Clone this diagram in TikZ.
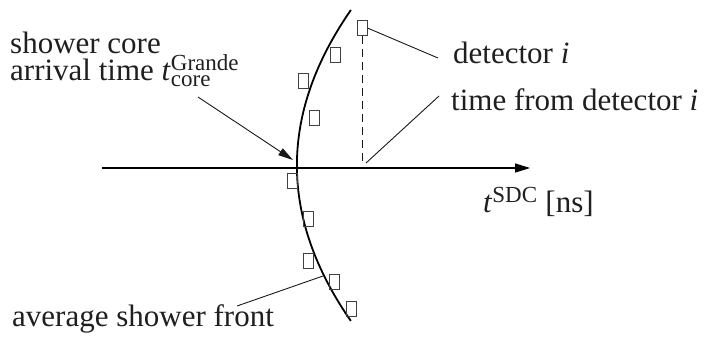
\documentclass[tikz,border=0pt]{standalone}
\usepackage{fontspec}
\setmainfont{Liberation Serif}
\usepackage{amsmath}
\usetikzlibrary{arrows.meta}
\DeclareMathSizes{31}{31}{23}{16}
\begin{document}
\begin{tikzpicture}[x=1pt,y=-1pt,
  lbl/.style={inner sep=0pt, anchor=base west, font=\fontsize{31}{27}\selectfont, text=black!88},
  det/.style={draw=black!75, line width=0.9pt, minimum width=10pt, minimum height=15pt, inner sep=0pt},
  lead/.style={line width=0.9pt, draw=black!90},
  ]
\useasboundingbox (0,0) rectangle (706,338);
% axis
\coordinate (ax0) at (102,168);
\coordinate (ax1) at (530,168);
\draw[line width=1.3pt, -{Triangle[length=15pt,width=9pt]}] (ax0) -- (ax1);
% shower front
\draw[line width=1.8pt] plot[domain=-1.555:1.555, samples=80, smooth] ({296.9+22.33*\x*\x},{165.5+100*\x});
% detectors
\node[det] (d1) at (362,28) {};
\node[det] (d2) at (335,55) {};
\node[det] (d3) at (303,81) {};
\node[det] (d4) at (314,118) {};
\node[det] (d5) at (292.5,181) {};
\node[det] (d6) at (308.5,219) {};
\node[det] (d7) at (308.5,261) {};
\node[det] (d8) at (334.5,282) {};
\node[det] (d9) at (351.5,309) {};
% dashed time line
\coordinate (tdi) at (362,163);
\draw[lead, dash pattern=on 8pt off 5pt] (d1.south) -- (tdi);
% labels
\node[lbl] (sc1) at (10,53) {shower core};
\node[lbl] (sc2) at (10,80) {arrival time \textit{t}$^{\text{Grande}}_{\text{core}}$};
\node[lbl] (deti) at (453,63) {detector \textit{i}};
\node[lbl] (tfd) at (451,110) {time from detector \textit{i}};
\node[lbl] (tsdc) at (483,212) {\textit{t}$^{\text{SDC}}$ [ns]};
\node[lbl] (asf) at (12,326) {average shower front};
% leaders
\coordinate (dl) at (438,58);
\draw[lead] (d1.east) -- (dl);
\coordinate (tl0) at (366,163);
\coordinate (tl1) at (439,96);
\draw[lead] (tl0) -- (tl1);
\coordinate (al0) at (237,306);
\coordinate (al1) at (323,276);
\draw[lead] (al0) -- (al1);
\coordinate (cs) at (198,97);
\coordinate (ce) at (293,160);
\draw[lead, -{Triangle[length=15pt,width=8pt]}] (cs) -- (ce);
\end{tikzpicture}
\end{document}
